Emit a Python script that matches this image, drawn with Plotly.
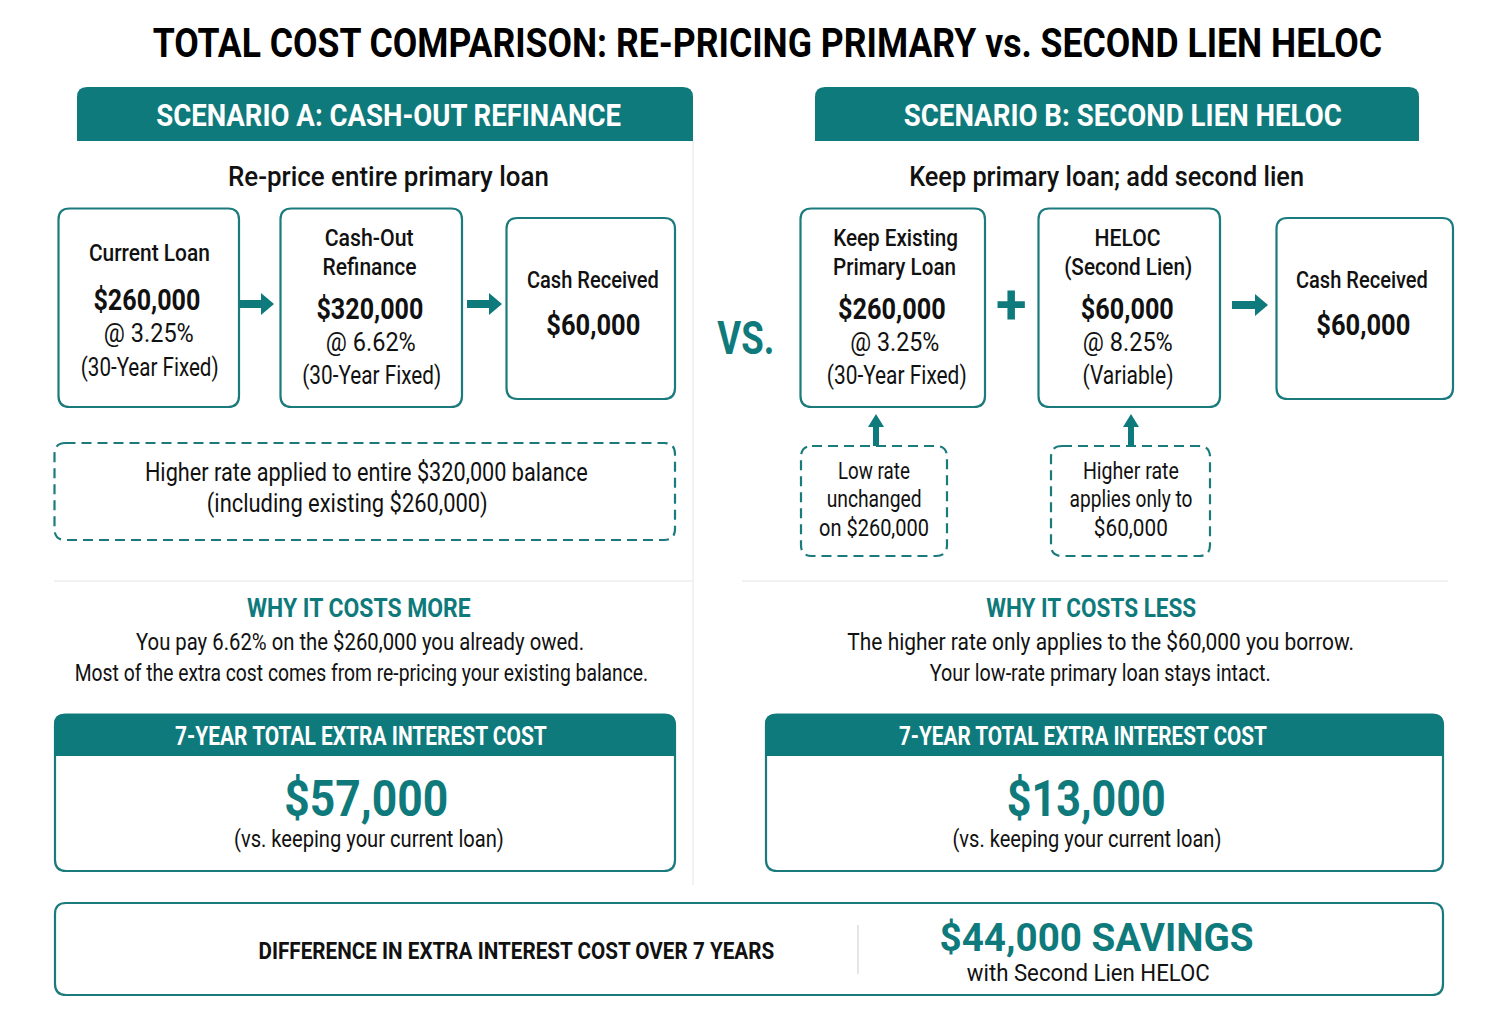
import json
import plotly.graph_objects as go

TEAL = "#0f7a7c"
BORDER = "#1a7a7c"
INK = "#111111"
FONT = "Roboto, sans-serif"

title = "TOTAL COST COMPARISON: RE-PRICING PRIMARY vs. SECOND LIEN HELOC"
scenario_heads = ["SCENARIO A: CASH-OUT REFINANCE", "SCENARIO B: SECOND LIEN HELOC"]
scenario_subs = ["Re-price entire primary loan", "Keep primary loan; add second lien"]

loan_names = [["Current Loan"], ["Cash-Out", "Refinance"], ["Cash Received"],
              ["Keep Existing", "Primary Loan"], ["HELOC", "(Second Lien)"], ["Cash Received"]]
loan_amounts = ["$260,000", "$320,000", "$60,000", "$260,000", "$60,000", "$60,000"]
loan_rates = ["@ 3.25%", "@ 6.62%", "", "@ 3.25%", "@ 8.25%", ""]
loan_terms = ["(30-Year Fixed)", "(30-Year Fixed)", "", "(30-Year Fixed)", "(Variable)", ""]

note_a = ["Higher rate applied to entire $320,000 balance", "(including existing $260,000)"]
note_low = ["Low rate", "unchanged", "on $260,000"]
note_high = ["Higher rate", "applies only to", "$60,000"]

why_heads = ["WHY IT COSTS MORE", "WHY IT COSTS LESS"]
why_a = ["You pay 6.62% on the $260,000 you already owed.",
         "Most of the extra cost comes from re-pricing your existing balance."]
why_b = ["The higher rate only applies to the $60,000 you borrow.",
         "Your low-rate primary loan stays intact."]
cost_head = "7-YEAR TOTAL EXTRA INTEREST COST"
cost_values = ["$57,000", "$13,000"]
cost_note = "(vs. keeping your current loan)"
diff_label = "DIFFERENCE IN EXTRA INTEREST COST OVER 7 YEARS"
diff_value = "$44,000 SAVINGS"
diff_note = "with Second Lien HELOC"

shapes = []
annotations = []
text_widths = []  # width each text has in the reference, the page squeezes to it


def rounded(x0, y0, x1, y1, r=10, top_only=False):
    # rounded rectangle as an svg path, in pixels
    if top_only:
        return (f"M{x0},{y1} L{x0},{y0+r} Q{x0},{y0} {x0+r},{y0} L{x1-r},{y0} "
                f"Q{x1},{y0} {x1},{y0+r} L{x1},{y1} Z")
    return (f"M{x0+r},{y0} L{x1-r},{y0} Q{x1},{y0} {x1},{y0+r} L{x1},{y1-r} Q{x1},{y1} {x1-r},{y1} "
            f"L{x0+r},{y1} Q{x0},{y1} {x0},{y1-r} L{x0},{y0+r} Q{x0},{y0} {x0+r},{y0} Z")


def box(x0, y0, x1, y1, r=11, width=2.2, dash="solid"):
    shapes.append(dict(type="path", path=rounded(x0, y0, x1, y1, r), fillcolor="white",
                       line=dict(color=BORDER, width=width, dash=dash)))


def banner(x0, y0, x1, y1, r=10):
    shapes.append(dict(type="path", path=rounded(x0, y0, x1, y1, r, top_only=True),
                       fillcolor=TEAL, line=dict(color=TEAL, width=0)))


def text(x, y, s, size, w=None, color=INK, weight=400):
    annotations.append(dict(x=x, y=y, text=s, showarrow=False, xanchor="center", yanchor="middle",
                            font=dict(family=FONT, size=size, color=color, weight=weight)))
    text_widths.append(w)


def rule(x0, y0, x1, y1):
    shapes.append(dict(type="line", x0=x0, y0=y0, x1=x1, y1=y1, line=dict(color="#eeeeec", width=1.5)))


def arrow_right(x0, x1, y):
    shapes.append(dict(type="path", fillcolor=TEAL, line=dict(width=0),
                       path=f"M{x0},{y-4} L{x1-13},{y-4} L{x1-13},{y-11} L{x1},{y} "
                            f"L{x1-13},{y+11} L{x1-13},{y+4} L{x0},{y+4} Z"))


def arrow_up(x, y0, y1):
    shapes.append(dict(type="path", fillcolor=TEAL, line=dict(width=0),
                       path=f"M{x-3},{y1} L{x-3},{y0+13} L{x-8},{y0+13} L{x},{y0} "
                            f"L{x+8},{y0+13} L{x+3},{y0+13} L{x+3},{y1} Z"))


# column dividers and section rules
rule(693, 140, 693, 885)
rule(54, 581, 693, 581)
rule(742, 581, 1448, 581)

text(767, 43, title, 41, 1230, "#000000", 700)

# scenario headers
banner(77, 87, 693, 141)
banner(815, 87, 1419, 141)
text(388, 115, scenario_heads[0], 31, 465, "white", 700)
text(1123, 115, scenario_heads[1], 31, 438, "white", 700)
text(388, 176, scenario_subs[0], 28, 321, INK, 500)
text(1106, 176, scenario_subs[1], 28, 395, INK, 500)

# loan boxes: edges and the centre of each text line
boxes = [
    (58.5, 208.5, 239, 407),
    (280.5, 208.5, 462, 407),
    (506.5, 218, 675, 399),
    (800.5, 208.5, 985, 407),
    (1038.5, 208.5, 1220, 407),
    (1276.5, 218, 1453, 399),
]
for b in boxes:
    box(*b)

text(149, 253, loan_names[0][0], 24, 121, INK, 500)
text(369, 238, loan_names[1][0], 24, 89, INK, 500)
text(369, 267, loan_names[1][1], 24, 94, INK, 500)
text(593, 280, loan_names[2][0], 24, 132, INK, 500)
text(895, 238, loan_names[3][0], 24, 125, INK, 500)
text(894, 267, loan_names[3][1], 24, 123, INK, 500)
text(1127, 238, loan_names[4][0], 24, 66, INK, 500)
text(1128, 267, loan_names[4][1], 24, 128, INK, 500)
text(1362, 280, loan_names[5][0], 24, 132, INK, 500)

text(147, 299, loan_amounts[0], 30, 107, INK, 700)
text(369.5, 308, loan_amounts[1], 30, 107, INK, 700)
text(593, 324.5, loan_amounts[2], 30, 94, INK, 700)
text(892, 308, loan_amounts[3], 30, 108, INK, 700)
text(1127, 308, loan_amounts[4], 30, 93, INK, 700)
text(1363, 324.5, loan_amounts[5], 30, 94, INK, 700)

text(149, 333, loan_rates[0], 25, 90)
text(371, 342, loan_rates[1], 25, 90)
text(895, 342, loan_rates[3], 25, 89)
text(1128, 342, loan_rates[4], 25, 90)

text(149, 367, loan_terms[0], 25, 138)
text(371, 375, loan_terms[1], 25, 139)
text(896, 375, loan_terms[3], 25, 140)
text(1128, 375, loan_terms[4], 25, 91)

arrow_right(239, 274, 304)
arrow_right(467, 502, 304)
arrow_right(1232, 1268, 305)
text(1011, 304, "+", 56, None, TEAL, 700)
text(746, 338, "VS.", 46, 57, TEAL, 700)

# dashed notes
DASH = "10px,6px"
box(54.5, 443, 675, 540, dash=DASH)
text(366, 472, note_a[0], 25, 443)
text(347, 503, note_a[1], 25, 281)
box(801, 446, 947, 556, dash=DASH)
text(874, 471, note_low[0], 24, 72)
text(874, 499, note_low[1], 24, 95)
text(874, 528, note_low[2], 24, 110)
box(1051, 446, 1210, 556, dash=DASH)
text(1131, 471, note_high[0], 24, 96)
text(1131, 499, note_high[1], 24, 123)
text(1131, 528, note_high[2], 24, 74)
arrow_up(876, 414, 446)
arrow_up(1131, 414, 446)

# why sections
text(359, 608, why_heads[0], 26, 224, TEAL, 700)
text(1091, 608, why_heads[1], 26, 210, TEAL, 700)
text(360, 642, why_a[0], 24, 448)
text(361, 673, why_a[1], 24, 574)
text(1100, 642, why_b[0], 24, 507)
text(1100, 673, why_b[1], 24, 341)

# cost cards
box(55, 714.5, 675, 871)
banner(54, 714, 675.5, 756)
text(361, 736, cost_head, 26, 372, "white", 700)
text(366, 798.5, cost_values[0], 50, 164, TEAL, 700)
text(369, 839, cost_note, 24, 270)
box(766, 714.5, 1443, 871)
banner(765, 714, 1443.5, 756)
text(1083, 736, cost_head, 26, 368, "white", 700)
text(1086, 798.5, cost_values[1], 50, 159, TEAL, 700)
text(1086.5, 839, cost_note, 24, 269)

# bottom strip
box(55, 903, 1443, 995)
shapes.append(dict(type="line", x0=858, y0=925, x1=858, y1=974, line=dict(color="#dddddd", width=1.5)))
text(516, 951, diff_label, 24, 516, INK, 700)
text(1096, 938, diff_value, 38, 314, TEAL, 700)
text(1088, 973, diff_note, 24, 243)

fig = go.Figure()
fig.update_layout(
    width=1504, height=1023,
    margin=dict(l=0, r=0, t=0, b=0),
    paper_bgcolor="white", plot_bgcolor="white",
    xaxis=dict(range=[0, 1504], visible=False, fixedrange=True),
    yaxis=dict(range=[1023, 0], visible=False, fixedrange=True),
    shapes=shapes,
    annotations=annotations,
    showlegend=False,
)

# no condensed font is installed, so squeeze each text to its reference width
squeeze = """
var widths = %s;
document.body.style.margin = '0';
document.querySelectorAll('.annotation').forEach(function (g) {
    var w = widths[+g.getAttribute('data-index')];
    var t = g.querySelector('.annotation-text');
    if (!w || !t) return;
    t.style.transformBox = 'fill-box';
    t.style.transformOrigin = 'center';
    t.style.transform = 'scaleX(' + (w / t.getBBox().width) + ')';
});
""" % json.dumps(text_widths)

fig.write_html("out.html", post_script=squeeze, config={"displayModeBar": False})
